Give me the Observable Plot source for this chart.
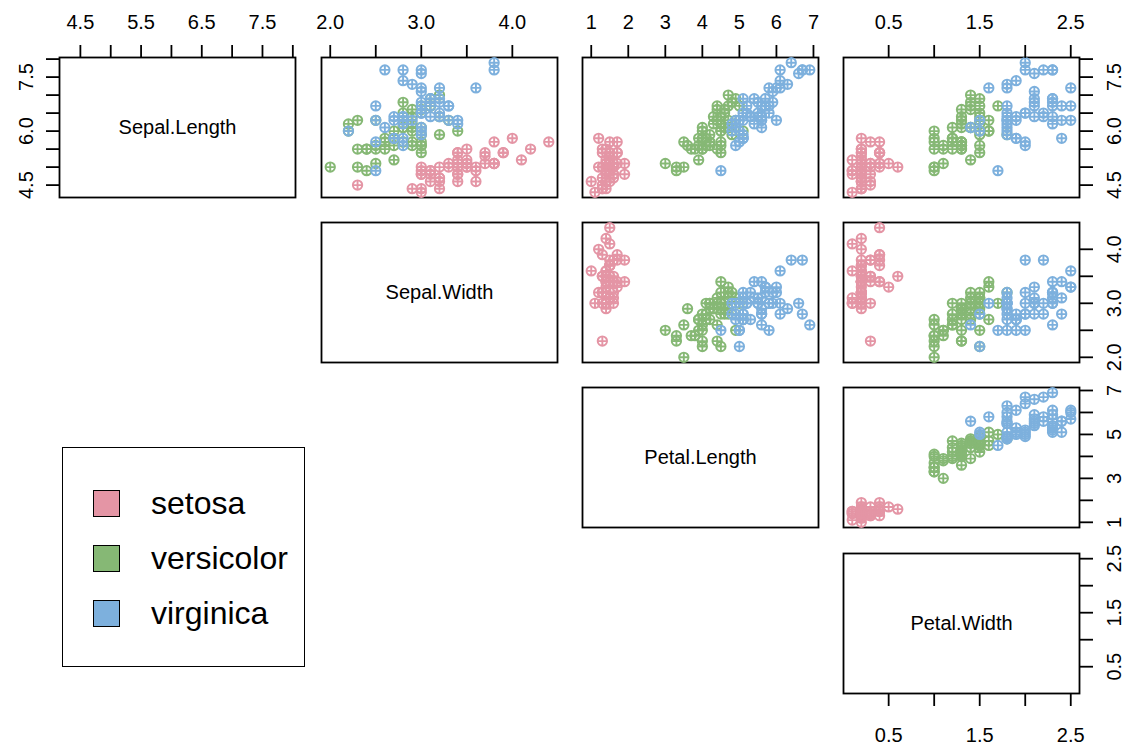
<!DOCTYPE html>
<html><head><meta charset="utf-8">
<script src="https://cdn.jsdelivr.net/npm/d3@7"></script>
<script src="https://cdn.jsdelivr.net/npm/@observablehq/plot@0.6"></script>
<style>
html,body{margin:0;padding:0;background:#fff;}
#chart{position:relative;width:1129px;height:744px;font-family:"Liberation Sans",Arial,sans-serif;overflow:hidden;}
#chart svg{position:absolute;overflow:visible;}
#legend{position:absolute;box-sizing:border-box;border:1.8px solid #000;background:#fff;}
.item{position:absolute;left:30px;height:28px;display:flex;align-items:center;font-size:32px;color:#000;white-space:nowrap;}
.sw{width:27px;height:27px;box-sizing:border-box;border:1.5px solid #000;margin-right:31px;flex:none;}
</style></head><body><div id="chart"></div>
<script>
const species = ["setosa", "versicolor", "virginica"];
const speciesColors = ["#E495A5", "#86B875", "#7DB0DD"];
const speciesCounts = [50, 50, 50];
const variables = ["Sepal.Length", "Sepal.Width", "Petal.Length", "Petal.Width"];

const sepalLength = [
5.1,4.9,4.7,4.6,5.0,5.4,4.6,5.0,4.4,4.9,5.4,4.8,4.8,4.3,5.8,5.7,5.4,5.1,5.7,5.1,5.4,5.1,4.6,5.1,4.8,5.0,5.0,5.2,5.2,4.7,4.8,5.4,5.2,5.5,4.9,5.0,5.5,4.9,4.4,5.1,5.0,4.5,4.4,5.0,5.1,4.8,5.1,4.6,5.3,5.0,
7.0,6.4,6.9,5.5,6.5,5.7,6.3,4.9,6.6,5.2,5.0,5.9,6.0,6.1,5.6,6.7,5.6,5.8,6.2,5.6,5.9,6.1,6.3,6.1,6.4,6.6,6.8,6.7,6.0,5.7,5.5,5.5,5.8,6.0,5.4,6.0,6.7,6.3,5.6,5.5,5.5,6.1,5.8,5.0,5.6,5.7,5.7,6.2,5.1,5.7,
6.3,5.8,7.1,6.3,6.5,7.6,4.9,7.3,6.7,7.2,6.5,6.4,6.8,5.7,5.8,6.4,6.5,7.7,7.7,6.0,6.9,5.6,7.7,6.3,6.7,7.2,6.2,6.1,6.4,7.2,7.4,7.9,6.4,6.3,6.1,7.7,6.3,6.4,6.0,6.9,6.7,6.9,5.8,6.8,6.7,6.7,6.3,6.5,6.2,5.9];
const sepalWidth = [
3.5,3.0,3.2,3.1,3.6,3.9,3.4,3.4,2.9,3.1,3.7,3.4,3.0,3.0,4.0,4.4,3.9,3.5,3.8,3.8,3.4,3.7,3.6,3.3,3.4,3.0,3.4,3.5,3.4,3.2,3.1,3.4,4.1,4.2,3.1,3.2,3.5,3.6,3.0,3.4,3.5,2.3,3.2,3.5,3.8,3.0,3.8,3.2,3.7,3.3,
3.2,3.2,3.1,2.3,2.8,2.8,3.3,2.4,2.9,2.7,2.0,3.0,2.2,2.9,2.9,3.1,3.0,2.7,2.2,2.5,3.2,2.8,2.5,2.8,2.9,3.0,2.8,3.0,2.9,2.6,2.4,2.4,2.7,2.7,3.0,3.4,3.1,2.3,3.0,2.5,2.6,3.0,2.6,2.3,2.7,3.0,2.9,2.9,2.5,2.8,
3.3,2.7,3.0,2.9,3.0,3.0,2.5,2.9,2.5,3.6,3.2,2.7,3.0,2.5,2.8,3.2,3.0,3.8,2.6,2.2,3.2,2.8,2.8,2.7,3.3,3.2,2.8,3.0,2.8,3.0,2.8,3.8,2.8,2.8,2.6,3.0,3.4,3.1,3.0,3.1,3.1,3.1,2.7,3.2,3.3,3.0,2.5,3.0,3.4,3.0];
const petalLength = [
1.4,1.4,1.3,1.5,1.4,1.7,1.4,1.5,1.4,1.5,1.5,1.6,1.4,1.1,1.2,1.5,1.3,1.4,1.7,1.5,1.7,1.5,1.0,1.7,1.9,1.6,1.6,1.5,1.4,1.6,1.6,1.5,1.5,1.4,1.5,1.2,1.3,1.4,1.3,1.5,1.3,1.3,1.3,1.6,1.9,1.4,1.6,1.4,1.5,1.4,
4.7,4.5,4.9,4.0,4.6,4.5,4.7,3.3,4.6,3.9,3.5,4.2,4.0,4.7,3.6,4.4,4.5,4.1,4.5,3.9,4.8,4.0,4.9,4.7,4.3,4.4,4.8,5.0,4.5,3.5,3.8,3.7,3.9,5.1,4.5,4.5,4.7,4.4,4.1,4.0,4.4,4.6,4.0,3.3,4.2,4.2,4.2,4.3,3.0,4.1,
6.0,5.1,5.9,5.6,5.8,6.6,4.5,6.3,5.8,6.1,5.1,5.3,5.5,5.0,5.1,5.3,5.5,6.7,6.9,5.0,5.7,4.9,6.7,4.9,5.7,6.0,4.8,4.9,5.6,5.8,6.1,6.4,5.6,5.1,5.6,6.1,5.6,5.5,4.8,5.4,5.6,5.1,5.1,5.9,5.7,5.2,5.0,5.2,5.4,5.1];
const petalWidth = [
0.2,0.2,0.2,0.2,0.2,0.4,0.3,0.2,0.2,0.1,0.2,0.2,0.1,0.1,0.2,0.4,0.4,0.3,0.3,0.3,0.2,0.4,0.2,0.5,0.2,0.2,0.4,0.2,0.2,0.2,0.2,0.4,0.1,0.2,0.2,0.2,0.2,0.1,0.2,0.2,0.3,0.3,0.2,0.6,0.4,0.3,0.2,0.2,0.2,0.2,
1.4,1.5,1.5,1.3,1.5,1.3,1.6,1.0,1.3,1.4,1.0,1.5,1.0,1.4,1.3,1.4,1.5,1.0,1.5,1.1,1.8,1.3,1.5,1.2,1.3,1.4,1.4,1.7,1.5,1.0,1.1,1.0,1.2,1.6,1.5,1.6,1.5,1.3,1.3,1.3,1.2,1.4,1.2,1.0,1.3,1.2,1.3,1.3,1.1,1.3,
2.5,1.9,2.1,1.8,2.2,2.1,1.7,1.8,1.8,2.5,2.0,1.9,2.1,2.0,2.4,2.3,1.8,2.2,2.3,1.5,2.3,2.0,2.0,1.8,2.1,1.8,1.8,1.8,2.1,1.6,1.9,2.0,2.2,1.5,1.4,2.3,2.4,1.8,1.8,2.1,2.4,2.3,1.9,2.3,2.5,2.3,1.9,2.0,2.3,1.8];

const tickValues = [
  [4.5, 5, 5.5, 6, 6.5, 7, 7.5, 8],
  [2, 2.5, 3, 3.5, 4],
  [1, 2, 3, 4, 5, 6, 7],
  [0.5, 1, 1.5, 2, 2.5]
];
const topTickLabels = [["4.5","5.5","6.5","7.5"], ["2.0","3.0","4.0"], ["1","2","3","4","5","6","7"], ["0.5","1.5","2.5"]];
const sideTickLabels = [["4.5","6.0","7.5"], ["2.0","3.0","4.0"], ["1","3","5","7"], ["0.5","1.5","2.5"]];
const bottomTickLabels = ["0.5","1.5","2.5"];

// build table
const columns = [sepalLength, sepalWidth, petalLength, petalWidth];
const speciesCol = species.flatMap((s, k) => Array(speciesCounts[k]).fill(s));
const rows = speciesCol.map((s, n) => {
  const r = {species: s};
  variables.forEach((v, k) => r[v] = columns[k][n]);
  return r;
});
const domains = columns.map(c => {
  const [a, b] = d3.extent(c); const p = (b - a) * 0.04; return [a - p, b + p];
});

const circlePlus = {
  draw(ctx, size) {
    const r = Math.sqrt(size / Math.PI);
    ctx.moveTo(r, 0); ctx.arc(0, 0, r, 0, 2 * Math.PI);
    ctx.moveTo(-r, 0); ctx.lineTo(r, 0);
    ctx.moveTo(0, -r); ctx.lineTo(0, r);
  }
};

const W = 236, H = 140, M = 60;
const L0 = 59.4, DX = 261.3, T0 = 56.7, DY = 165.3;
const FONT = "Liberation Sans, Arial, sans-serif";
const fmtFor = (labels) => (d) => { const s = labels.find(l => +l === d); return s === undefined ? "" : s; };

const chart = document.getElementById("chart");

for (let i = 0; i < 4; i++) {
  for (let j = i; j < 4; j++) {
    const marks = [Plot.frame({stroke: "black", strokeWidth: 1.8})];
    if (i === j) {
      marks.push(Plot.text([variables[i]], {frameAnchor: "middle", fontSize: 20, fill: "black", text: d => d}));
    } else {
      marks.push(Plot.dot(rows, {x: variables[j], y: variables[i], stroke: "species", symbol: circlePlus, r: 4.7, strokeWidth: 1.9}));
    }
    if (i === 0) {
      marks.push(Plot.axisX({anchor: "top", ticks: tickValues[j], tickSize: 13, tickPadding: 15.3, tickFormat: fmtFor(topTickLabels[j]), fontSize: 20, strokeWidth: 1.8, label: null}));
    }
    if (i === 3 && j === 3) {
      marks.push(Plot.axisX({anchor: "bottom", ticks: tickValues[j], tickSize: 13, tickPadding: 21, tickFormat: fmtFor(bottomTickLabels), fontSize: 20, strokeWidth: 1.8, label: null}));
    }
    if (j === 3) {
      marks.push(Plot.axisY({anchor: "right", ticks: tickValues[i], tickSize: 13, tickPadding: 14.7, tickRotate: -90, lineAnchor: "top", textAnchor: "middle", tickFormat: fmtFor(sideTickLabels[i]), fontSize: 20, strokeWidth: 1.8, label: null}));
    }
    if (i === 0 && j === 0) {
      marks.push(Plot.axisY({anchor: "left", ticks: tickValues[i], tickSize: 13, tickPadding: 13.3, tickRotate: -90, lineAnchor: "bottom", textAnchor: "middle", tickFormat: fmtFor(sideTickLabels[i]), fontSize: 20, strokeWidth: 1.8, label: null}));
    }
    const svg = Plot.plot({
      width: W + 2 * M, height: H + 2 * M,
      marginTop: M, marginBottom: M, marginLeft: M, marginRight: M,
      x: {domain: domains[j], axis: null},
      y: {domain: domains[i], axis: null},
      color: {domain: species, range: speciesColors},
      style: {background: "transparent", overflow: "visible", fontFamily: FONT, color: "black"},
      marks
    });
    svg.style.left = (L0 + j * DX - M) + "px";
    svg.style.top = (T0 + i * DY - M) + "px";
    chart.appendChild(svg);
  }
}

// legend
const legend = document.createElement("div");
legend.id = "legend";
Object.assign(legend.style, {left: "62px", top: "447px", width: "243px", height: "220px"});
species.forEach((s, k) => {
  const it = document.createElement("div");
  it.className = "item";
  it.style.top = (41 + k * 55) + "px";
  const sw = document.createElement("div");
  sw.className = "sw"; sw.style.background = speciesColors[k];
  const tx = document.createElement("span"); tx.textContent = s;
  it.appendChild(sw); it.appendChild(tx);
  legend.appendChild(it);
});
chart.appendChild(legend);
</script></body></html>
